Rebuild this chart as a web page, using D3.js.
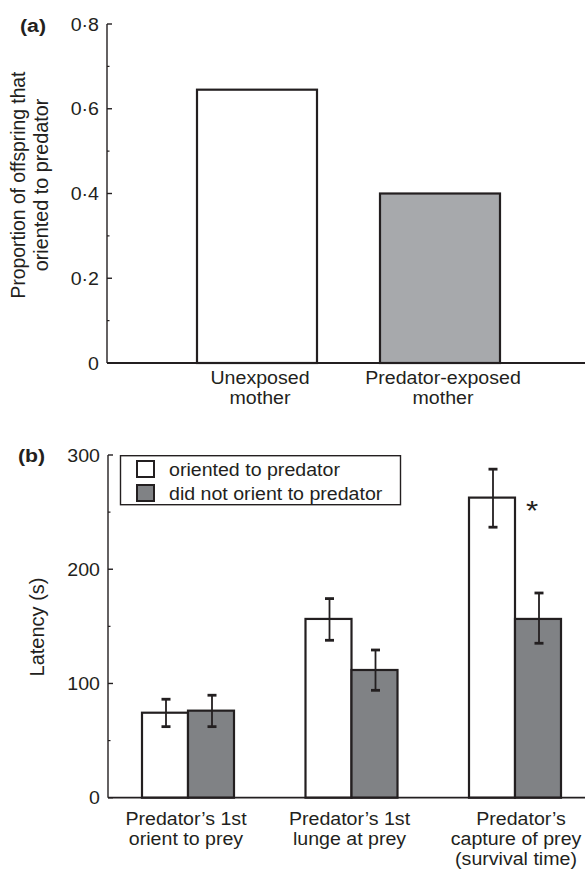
<!DOCTYPE html>
<html><head><meta charset="utf-8">
<script src="https://cdn.jsdelivr.net/npm/d3@7"></script>
<style>body{margin:0;background:#fff}svg{display:block}text{font-family:"Liberation Sans",Arial,Helvetica,sans-serif;fill:#231f20}</style>
</head><body>
<script>
// ---- data ----
const mothers = ["Unexposed mother", "Predator-exposed mother"];
const proportionOriented = [0.645, 0.40];
const aTicks = [0, 0.2, 0.4, 0.6, 0.8];
const aMinorTicks = [0.1, 0.3, 0.5, 0.7];

const events = ["Predator\u2019s 1st|orient to prey", "Predator\u2019s 1st|lunge at prey", "Predator\u2019s|capture of prey|(survival time)"];
const series = ["oriented to predator", "did not orient to predator"];
const latencyOriented = [74.4, 156.5, 262.7];
const latencyOrientedLo = [62.2, 137.8, 236.8];
const latencyOrientedHi = [86.2, 174.3, 287.6];
const latencyNot = [76.2, 111.8, 156.5];
const latencyNotLo = [62.2, 94.0, 135.2];
const latencyNotHi = [89.7, 129.3, 179.2];
const bTicks = [0, 100, 200, 300];
const bMinorTicks = [50, 150, 250];
const significant = [false, false, true];

const INK = "#231f20";
const SX = 1.12; // horizontal stretch of the original figure
const FS = 17.5;

const svg = d3.select("body").append("svg").attr("width", 585).attr("height", 872);

function txt(g, x, y, s, o = {}) {
  return g.append("text")
    .attr("transform", `translate(${x},${y})` + (o.rot ? " rotate(-90)" : ` scale(${SX},1)`))
    .attr("text-anchor", o.anchor || "middle")
    .attr("font-size", o.size || FS)
    .attr("font-weight", o.bold ? "bold" : null)
    .text(s);
}

function yAxis(g, scale, major, minor, fmt, x0) {
  g.append("line").attr("x1", x0).attr("x2", x0)
    .attr("y1", scale.range()[0]).attr("y2", scale.range()[1])
    .attr("stroke", INK).attr("stroke-width", 1.4);
  major.forEach(t => {
    g.append("line").attr("x1", x0).attr("x2", x0 + 5).attr("y1", scale(t)).attr("y2", scale(t))
      .attr("stroke", INK).attr("stroke-width", 1.4);
    txt(g, x0 - 8, scale(t) + 6.5, fmt(t), { anchor: "end" });
  });
  minor.forEach(t => {
    g.append("line").attr("x1", x0).attr("x2", x0 + 2.5).attr("y1", scale(t)).attr("y2", scale(t))
      .attr("stroke", INK).attr("stroke-width", 1.2);
  });
}

// ---------- panel (a) ----------
const ga = svg.append("g");
const yA = d3.scaleLinear().domain([0, 0.8]).range([363, 24]);
const xA = d3.scalePoint().domain(mothers).range([257, 440]);
const bwA = 120;
const fillsA = ["#ffffff", "#a7a9ac"];

ga.selectAll("rect.bar").data(mothers).join("rect")
  .attr("x", d => xA(d) - bwA / 2).attr("width", bwA)
  .attr("y", (d, i) => yA(proportionOriented[i]))
  .attr("height", (d, i) => yA(0) - yA(proportionOriented[i]))
  .attr("fill", (d, i) => fillsA[i]).attr("stroke", INK).attr("stroke-width", 2.2);

ga.append("line").attr("x1", 107).attr("x2", 585).attr("y1", yA(0)).attr("y2", yA(0))
  .attr("stroke", INK).attr("stroke-width", 1.8);
yAxis(ga, yA, aTicks, aMinorTicks, t => t === 0 ? "0" : d3.format(".1f")(t).replace(".", "\u00b7"), 107);

mothers.forEach(m => {
  const parts = m.split(" ");
  txt(ga, xA(m) + 3, 384, parts[0]);
  txt(ga, xA(m) + 3, 404, parts[1]);
});

txt(ga, 25, 185, "Proportion of offspring that", { rot: true, size: 19.3 });
txt(ga, 48, 185, "oriented to predator", { rot: true, size: 19.8 });
txt(ga, 20, 31.5, "(a)", { anchor: "start", bold: true, size: 19 });

// ---------- panel (b) ----------
const gb = svg.append("g");
const yB = d3.scaleLinear().domain([0, 300]).range([797.7, 455]);
const xB = d3.scalePoint().domain(events).range([188, 515]);
const xS = d3.scaleBand().domain(series).range([-46, 46]);
const fillsB = ["#ffffff", "#808285"];
const vals = [latencyOriented, latencyNot];
const los = [latencyOrientedLo, latencyNotLo];
const his = [latencyOrientedHi, latencyNotHi];

const rows = [];
events.forEach((e, i) => series.forEach((s, j) => rows.push({ e, s, i, j, v: vals[j][i], lo: los[j][i], hi: his[j][i] })));

gb.selectAll("rect.bar").data(rows).join("rect")
  .attr("x", d => xB(d.e) + xS(d.s)).attr("width", xS.bandwidth())
  .attr("y", d => yB(d.v)).attr("height", d => yB(0) - yB(d.v))
  .attr("fill", d => fillsB[d.j]).attr("stroke", INK).attr("stroke-width", 2.2);

rows.forEach(d => {
  const cx = xB(d.e) + xS(d.s) + xS.bandwidth() / 2 + 1;
  gb.append("line").attr("x1", cx).attr("x2", cx).attr("y1", yB(d.hi)).attr("y2", yB(d.lo))
    .attr("stroke", INK).attr("stroke-width", 1.8);
  [d.hi, d.lo].forEach(v => gb.append("line").attr("x1", cx - 4.5).attr("x2", cx + 4.5)
    .attr("y1", yB(v)).attr("y2", yB(v)).attr("stroke", INK).attr("stroke-width", 2.8));
});

gb.append("line").attr("x1", 108).attr("x2", 585).attr("y1", yB(0)).attr("y2", yB(0))
  .attr("stroke", INK).attr("stroke-width", 1.8);
yAxis(gb, yB, bTicks, bMinorTicks, d3.format("d"), 108);

events.forEach((e, i) => {
  const lines = e.split("|");
  lines.forEach((line, k) => {
    const dx = (lines.length === 3 && k === 0) ? 6 : (lines.length === 3 ? 1 : -2);
    txt(gb, xB(e) + dx, 825 + k * 20, line);
  });
});

significant.forEach((s, i) => {
  if (s) txt(gb, xB(events[i]) + 17, 520, "*", { size: 28 });
});

txt(gb, 44, 627, "Latency (s)", { rot: true, size: 20 });
txt(gb, 18, 461.5, "(b)", { anchor: "start", bold: true, size: 19 });

// legend
gb.append("rect").attr("x", 120.5).attr("y", 455.7).attr("width", 280).attr("height", 49)
  .attr("fill", "#fff").attr("stroke", INK).attr("stroke-width", 1.4);
series.forEach((s, j) => {
  gb.append("rect").attr("x", 137).attr("y", 461 + j * 24).attr("width", 17).attr("height", 16)
    .attr("fill", fillsB[j]).attr("stroke", INK).attr("stroke-width", 2);
  txt(gb, 169, 475.5 + j * 24, s, { anchor: "start" });
});
</script>
</body></html>
